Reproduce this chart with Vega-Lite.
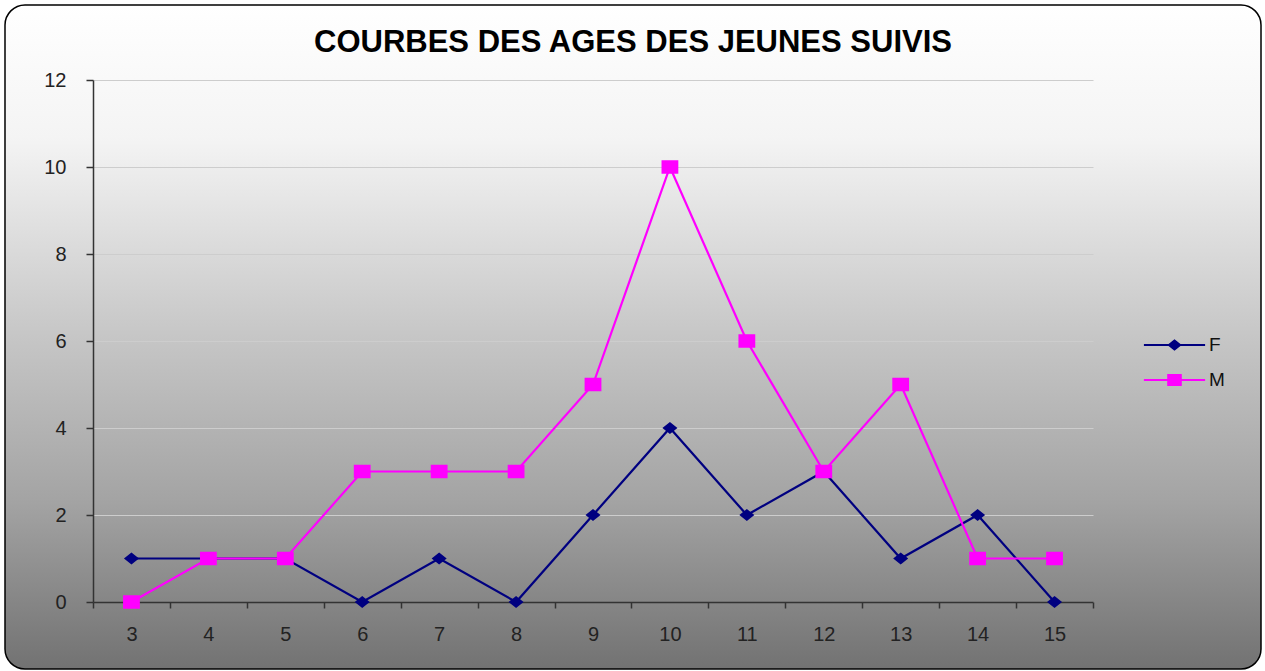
{
  "$schema": "https://vega.github.io/schema/vega-lite/v6.json",
  "autosize": "none",
  "width": 1256,
  "height": 664,
  "padding": {"left": 5, "top": 5, "right": 4, "bottom": 2},
  "background": "#ffffff",
  "title": {
    "text": "COURBES DES AGES DES JEUNES SUIVIS",
    "anchor": "middle",
    "frame": "group",
    "baseline": "alphabetic",
    "offset": -44,
    "dy": 34,
    "font": "Liberation Sans",
    "fontSize": 31,
    "fontWeight": "bold",
    "color": "#000000"
  },
  "data": {
    "values": [
      {"age": 3, "sexe": "F", "n": 1}, {"age": 4, "sexe": "F", "n": 1}, {"age": 5, "sexe": "F", "n": 1},
      {"age": 6, "sexe": "F", "n": 0}, {"age": 7, "sexe": "F", "n": 1}, {"age": 8, "sexe": "F", "n": 0},
      {"age": 9, "sexe": "F", "n": 2}, {"age": 10, "sexe": "F", "n": 4}, {"age": 11, "sexe": "F", "n": 2},
      {"age": 12, "sexe": "F", "n": 3}, {"age": 13, "sexe": "F", "n": 1}, {"age": 14, "sexe": "F", "n": 2},
      {"age": 15, "sexe": "F", "n": 0},
      {"age": 3, "sexe": "M", "n": 0}, {"age": 4, "sexe": "M", "n": 1}, {"age": 5, "sexe": "M", "n": 1},
      {"age": 6, "sexe": "M", "n": 3}, {"age": 7, "sexe": "M", "n": 3}, {"age": 8, "sexe": "M", "n": 3},
      {"age": 9, "sexe": "M", "n": 5}, {"age": 10, "sexe": "M", "n": 10}, {"age": 11, "sexe": "M", "n": 6},
      {"age": 12, "sexe": "M", "n": 3}, {"age": 13, "sexe": "M", "n": 5}, {"age": 14, "sexe": "M", "n": 1},
      {"age": 15, "sexe": "M", "n": 1}
    ]
  },
  "encoding": {
    "x": {
      "field": "age",
      "type": "ordinal",
      "scale": {"type": "band", "range": [88, 1088], "paddingInner": 0, "paddingOuter": 0},
      "axis": {
        "title": null,
        "offset": -67,
        "labelAngle": 0,
        "labelFont": "Liberation Sans",
        "labelFontSize": 20,
        "labelColor": "#222222",
        "labelPadding": 16,
        "tickBand": "extent",
        "tickSize": 6,
        "tickColor": "#333333",
        "tickWidth": 1.5,
        "domainColor": "#333333",
        "domainWidth": 1.5,
        "grid": false
      }
    },
    "y": {
      "field": "n",
      "type": "quantitative",
      "scale": {"domain": [0, 12], "range": [597, 75], "nice": false, "zero": true},
      "axis": {
        "title": null,
        "offset": -88,
        "values": [0, 2, 4, 6, 8, 10, 12],
        "labelFont": "Liberation Sans",
        "labelFontSize": 20,
        "labelColor": "#222222",
        "labelPadding": 20,
        "tickSize": 7,
        "tickColor": "#333333",
        "tickWidth": 1.5,
        "domainColor": "#333333",
        "domainWidth": 1.5,
        "grid": true,
        "gridColor": "#cdcdcd",
        "gridWidth": 1
      }
    }
  },
  "layer": [
    {
      "mark": {"type": "line", "strokeWidth": 2.2, "interpolate": "linear"},
      "encoding": {
        "stroke": {
          "field": "sexe",
          "type": "nominal",
          "scale": {"domain": ["F", "M"], "range": ["#000080", "#ff00ff"]},
          "legend": {
            "title": null,
            "orient": "none",
            "legendX": 1160,
            "legendY": 330.5,
            "padding": 0,
            "symbolSize": 144,
            "symbolStrokeWidth": 2,
            "symbolOpacity": 1,
            "labelOffset": 25,
            "labelFont": "Liberation Sans",
            "labelFontSize": 19,
            "labelColor": "#111111",
            "rowPadding": 15,
            "encoding": {
              "symbols": {
                "stroke": {"value": {"expr": "datum.value === 'F' ? '#000080' : '#ff00ff'"}},
                "strokeWidth": {"value": 2}
              }
            }
          }
        }
      }
    },
    {
      "mark": {"type": "point", "filled": true, "opacity": 1, "size": 256},
      "encoding": {
        "color": {
          "field": "sexe",
          "type": "nominal",
          "scale": {"domain": ["F", "M"], "range": ["#000080", "#ff00ff"]},
          "legend": {
            "title": null,
            "orient": "none",
            "legendX": 1160,
            "legendY": 330.5,
            "padding": 0,
            "symbolSize": 144,
            "symbolStrokeWidth": 2,
            "symbolOpacity": 1,
            "labelOffset": 25,
            "labelFont": "Liberation Sans",
            "labelFontSize": 19,
            "labelColor": "#111111",
            "rowPadding": 15,
            "encoding": {
              "symbols": {
                "stroke": {"value": {"expr": "datum.value === 'F' ? '#000080' : '#ff00ff'"}},
                "strokeWidth": {"value": 2}
              }
            }
          }
        },
        "shape": {
          "field": "sexe",
          "type": "nominal",
          "scale": {"domain": ["F", "M"], "range": ["M-5.1,0H5.1M-0.94,0L0,-0.75L0.94,0L0,0.75Z", "M-5.1,0H5.1M-1.05,-0.85H1.05V0.85H-1.05Z"]},
          "legend": {
            "title": null,
            "orient": "none",
            "legendX": 1160,
            "legendY": 330.5,
            "padding": 0,
            "symbolSize": 144,
            "symbolStrokeWidth": 2,
            "symbolOpacity": 1,
            "labelOffset": 25,
            "labelFont": "Liberation Sans",
            "labelFontSize": 19,
            "labelColor": "#111111",
            "rowPadding": 15,
            "encoding": {
              "symbols": {
                "stroke": {"value": {"expr": "datum.value === 'F' ? '#000080' : '#ff00ff'"}},
                "strokeWidth": {"value": 2}
              }
            }
          }
        }
      }
    }
  ],
  "config": {
    "view": {
      "fill": {
        "gradient": "linear",
        "x1": 0, "y1": 0, "x2": 0, "y2": 1,
        "stops": [
          {"offset": 0, "color": "#ffffff"},
          {"offset": 0.2, "color": "#f4f4f4"},
          {"offset": 0.5, "color": "#c6c6c6"},
          {"offset": 0.75, "color": "#a3a3a3"},
          {"offset": 1, "color": "#727272"}
        ]
      },
      "stroke": "#000000",
      "strokeWidth": 1.5,
      "cornerRadius": 20
    }
  }
}
